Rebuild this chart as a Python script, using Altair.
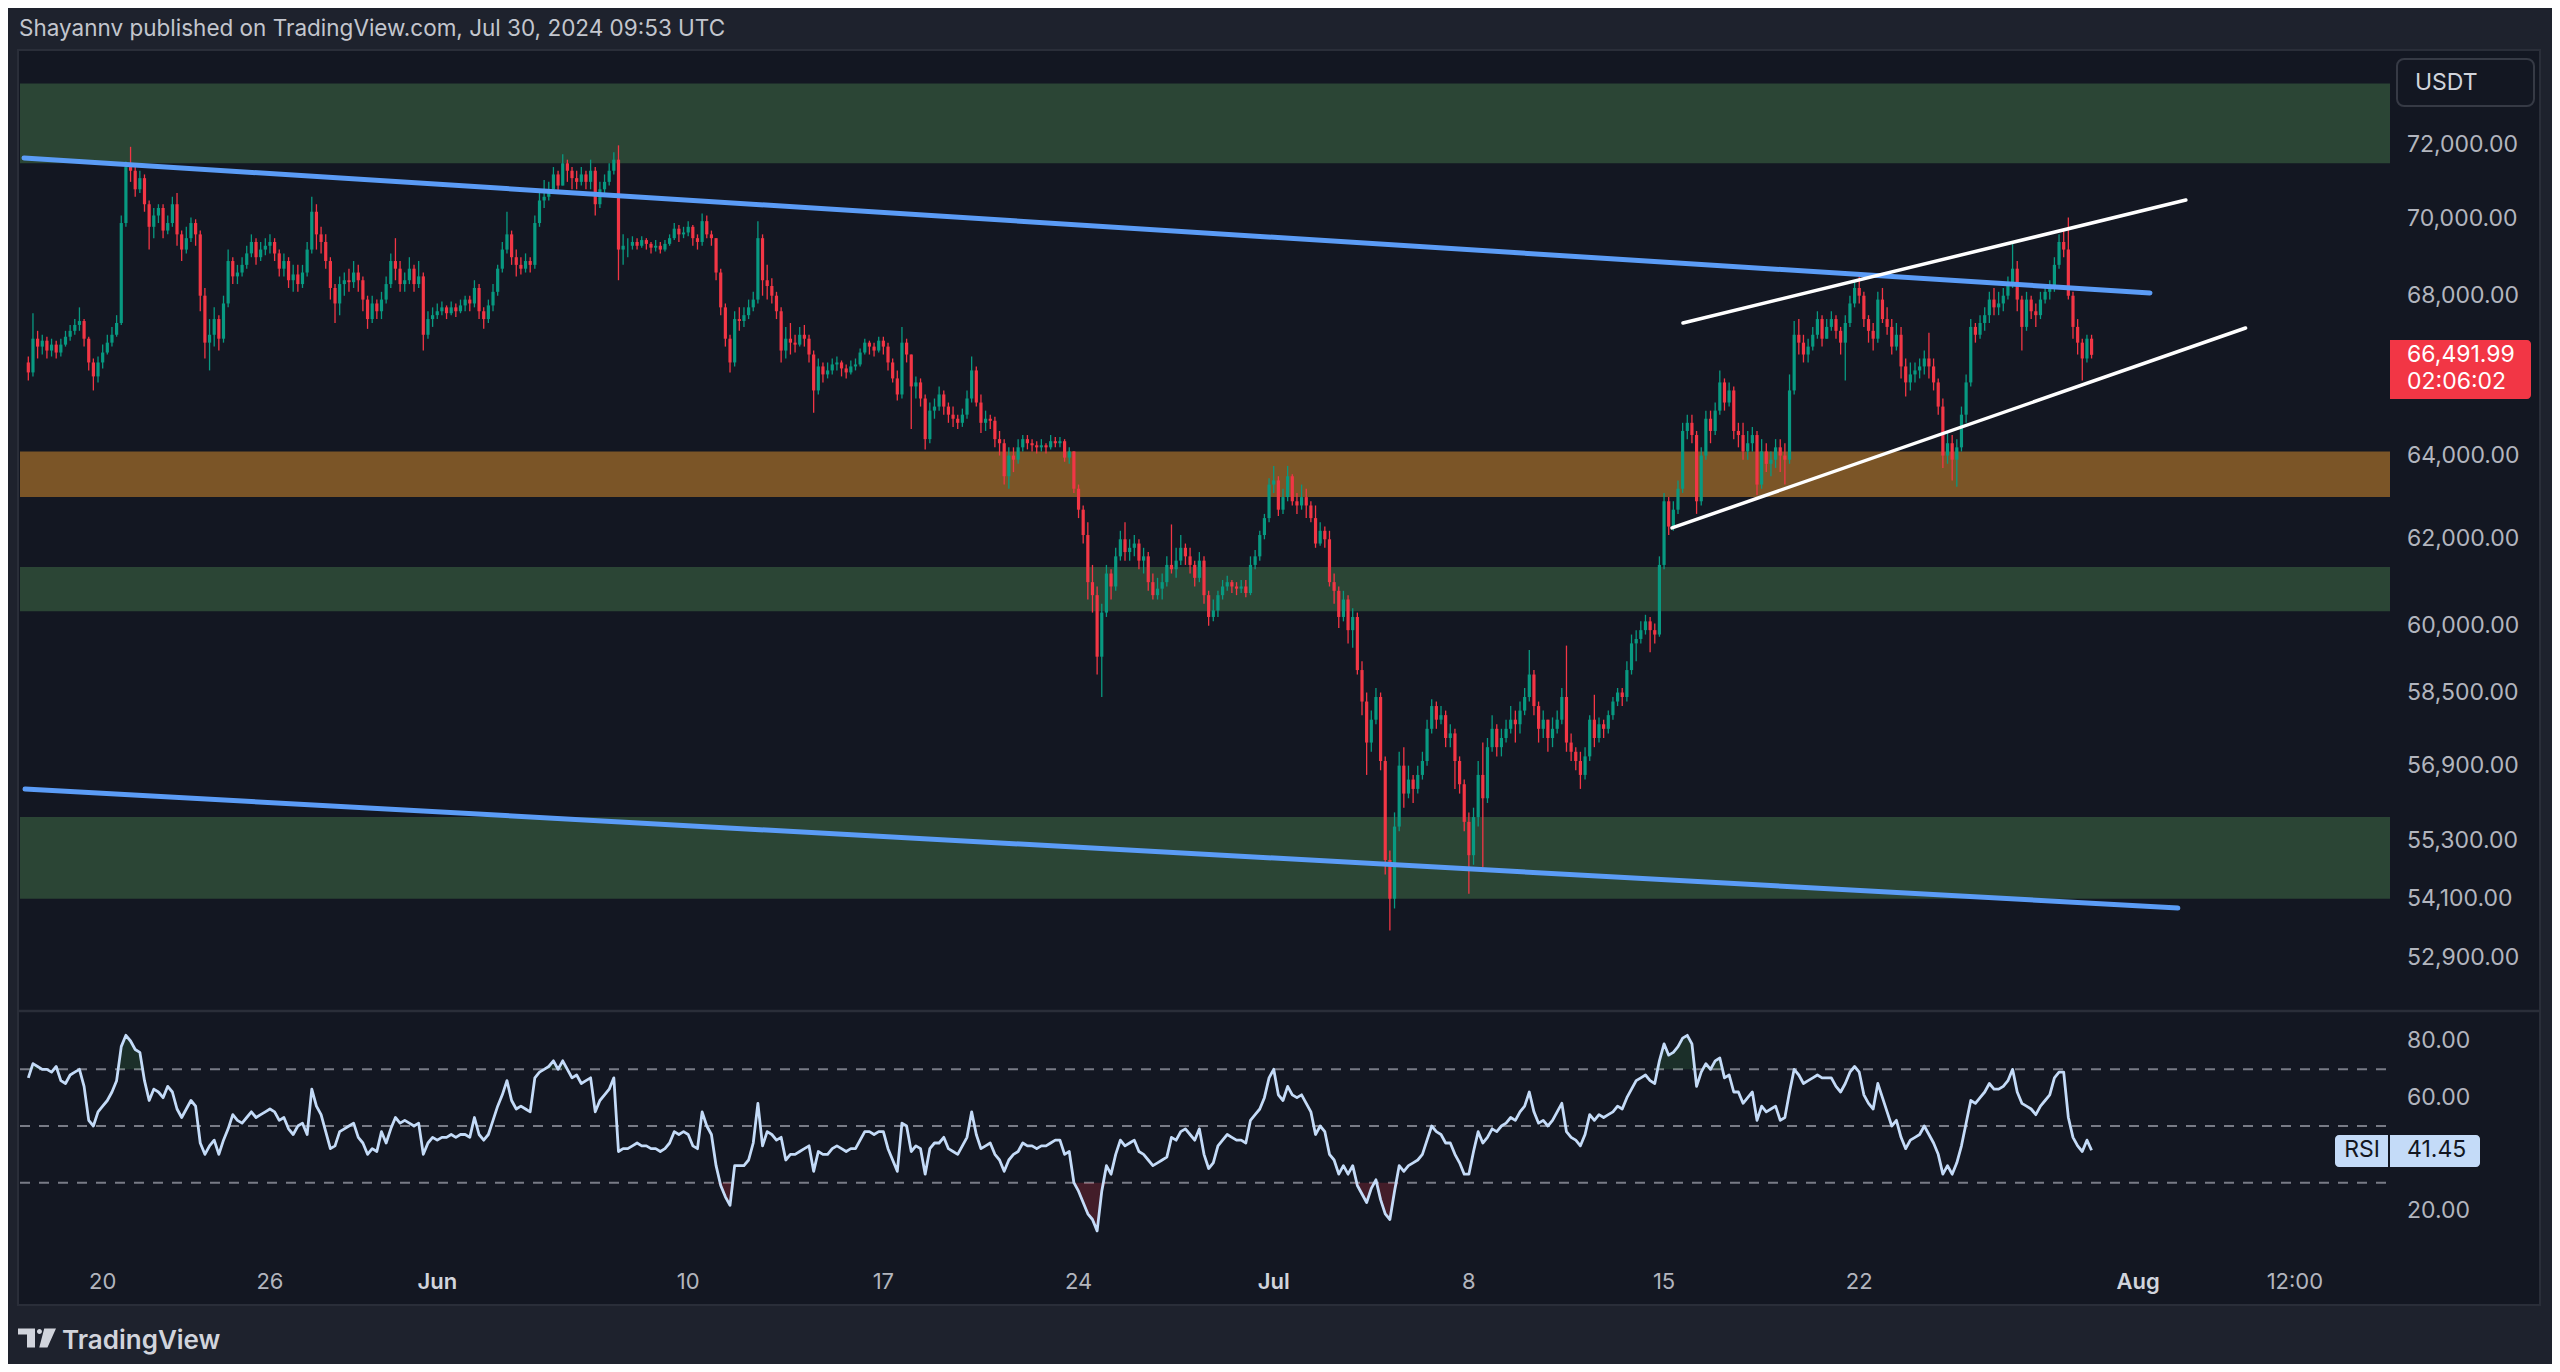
import altair as alt
import pandas as pd

# ---------------- data (prices in thousands of USDT, 4h bars) ----------------
FIRST_BAR = "2024-05-17T08:00:00Z"
BAR_HOURS = 4
OPEN0 = 66.30

CLOSE = [
    66.05, 66.90, 66.70, 66.85,                      # May 17
    66.60, 66.75, 66.55, 66.75, 66.95, 67.10,        # May 18
    67.25, 67.35, 66.90, 66.30, 65.95, 66.30,        # May 19
    66.55, 66.80, 67.00, 67.30, 69.90, 71.40,        # May 20
    71.30, 70.80, 71.10, 70.40, 69.80, 70.10,        # May 21
    70.30, 69.70, 69.90, 70.40, 69.60, 69.20,        # May 22
    69.50, 69.90, 69.60, 68.00, 66.80, 67.00,        # May 23
    67.40, 66.90, 67.80, 68.90, 68.50, 68.60,        # May 24
    68.80, 69.10, 69.40, 69.00, 69.20, 69.30,        # May 25
    69.40, 69.10, 68.70, 68.90, 68.40, 68.55,        # May 26
    68.30, 68.60, 69.20, 70.20, 69.60, 69.40,        # May 27
    68.90, 68.20, 67.80, 68.30, 68.40, 68.35,        # May 28
    68.60, 68.40, 67.90, 67.40, 67.80, 67.60,        # May 29
    67.90, 68.30, 68.90, 68.70, 68.30, 68.40,        # May 30
    68.70, 68.30, 68.50, 67.00, 67.40, 67.50,        # May 31
    67.60, 67.70, 67.55, 67.70, 67.60, 67.75,        # Jun 1
    67.90, 67.80, 68.20, 67.60, 67.40, 67.75,        # Jun 2
    68.10, 68.70, 69.20, 69.60, 69.00, 68.80,        # Jun 3
    68.70, 68.90, 68.80, 69.90, 70.50, 70.60,        # Jun 4
    70.80, 71.20, 70.90, 71.50, 71.30, 71.10,        # Jun 5
    71.00, 71.20, 71.00, 71.30, 70.40, 70.80,        # Jun 6
    71.00, 71.30, 71.60, 69.20, 69.30, 69.30,        # Jun 7
    69.40, 69.30, 69.45, 69.35, 69.25, 69.30,        # Jun 8
    69.20, 69.35, 69.50, 69.75, 69.60, 69.65,        # Jun 9
    69.80, 69.50, 69.40, 69.95, 69.60, 69.50,        # Jun 10
    68.60, 67.70, 66.90, 66.30, 67.40, 67.35,        # Jun 11
    67.50, 67.70, 67.90, 69.50, 68.40, 68.25,        # Jun 12
    68.00, 67.60, 66.60, 66.90, 66.80, 66.75,        # Jun 13
    67.00, 66.90, 66.50, 65.60, 66.20, 66.00,        # Jun 14
    66.10, 66.25, 66.30, 66.15, 66.05, 66.20,        # Jun 15
    66.25, 66.55, 66.80, 66.70, 66.60, 66.85,        # Jun 16
    66.70, 66.30, 65.90, 65.50, 66.80, 66.50,        # Jun 17
    65.70, 65.80, 65.40, 64.40, 65.10, 65.20,        # Jun 18
    65.50, 65.20, 65.00, 64.90, 64.80, 65.00,        # Jun 19
    65.40, 66.10, 65.30, 64.80, 64.90, 64.85,        # Jun 20
    64.40, 64.30, 63.50, 64.00, 63.90, 64.20,        # Jun 21
    64.40, 64.30, 64.25, 64.20, 64.25, 64.20,        # Jun 22
    64.35, 64.30, 64.35, 63.95, 64.10, 63.20,        # Jun 23
    62.70, 62.10, 61.00, 60.70, 59.30, 60.30,        # Jun 24
    61.20, 60.90, 61.60, 62.00, 61.70, 61.80,        # Jun 25
    61.90, 61.50, 61.60, 61.00, 60.70, 60.85,        # Jun 26
    61.00, 61.40, 61.30, 61.50, 61.80, 61.60,        # Jun 27
    61.40, 61.10, 61.50, 60.70, 60.20, 60.35,        # Jun 28
    60.70, 60.90, 61.00, 60.90, 60.85, 60.90,        # Jun 29
    60.75, 61.40, 61.60, 62.10, 62.50, 63.30,        # Jun 30
    63.40, 62.70, 63.00, 63.50, 62.90, 62.80,        # Jul 1
    63.00, 62.80, 62.50, 61.90, 62.20, 62.00,        # Jul 2
    61.00, 60.80, 60.20, 60.60, 59.90, 60.20,        # Jul 3
    59.00, 58.30, 57.40, 57.90, 58.40, 57.00,        # Jul 4
    54.90, 54.10, 55.60, 56.90, 56.30, 56.60,        # Jul 5
    56.40, 56.70, 57.00, 57.70, 58.20, 57.90,        # Jul 6
    58.00, 57.50, 57.60, 57.00, 56.50, 55.70,        # Jul 7
    55.00, 55.80, 56.70, 56.20, 57.30, 57.70,        # Jul 8
    57.30, 57.50, 57.70, 57.90, 57.80, 58.10,        # Jul 9
    58.40, 58.90, 58.20, 57.70, 57.90, 57.50,        # Jul 10
    57.70, 57.90, 58.40, 57.40, 57.20, 57.00,        # Jul 11
    56.70, 57.10, 57.90, 57.50, 57.80, 57.70,        # Jul 12
    58.00, 58.30, 58.50, 58.40, 59.00, 59.60,        # Jul 13
    59.70, 59.90, 60.10, 59.90, 59.80, 61.40,        # Jul 14
    62.90, 62.30, 62.70, 63.20, 64.60, 64.80,        # Jul 15
    64.50, 62.90, 64.00, 64.90, 64.60, 65.10,        # Jul 16
    65.80, 65.30, 65.60, 64.60, 64.50, 64.10,        # Jul 17
    64.30, 64.50, 63.30, 64.10, 63.80, 63.90,        # Jul 18
    64.20, 64.00, 63.90, 65.60, 67.00, 66.80,        # Jul 19
    66.50, 66.70, 67.00, 67.40, 66.90, 67.20,        # Jul 20
    67.40, 67.10, 66.80, 67.30, 67.80, 68.20,        # Jul 21
    68.00, 67.40, 67.10, 66.90, 67.90, 67.40,        # Jul 22
    67.20, 66.70, 67.00, 66.20, 65.80, 66.00,        # Jul 23
    66.10, 66.20, 66.40, 66.20, 65.80, 65.20,        # Jul 24
    64.00, 64.30, 63.90, 64.20, 65.00, 65.80,        # Jul 25
    67.20, 67.00, 67.30, 67.50, 67.90, 67.70,        # Jul 26
    67.80, 68.00, 68.30, 68.70, 67.90, 67.20,        # Jul 27
    67.90, 67.60, 67.50, 67.90, 68.10, 68.20,        # Jul 28
    68.80, 69.40, 69.20, 68.00, 67.20, 66.80,        # Jul 29
    66.40, 66.90, 66.49199,                          # Jul 30
]

HIGH = [
    66.45, 67.55, 67.10, 67.00,
    66.95, 66.90, 66.85, 66.90, 67.10, 67.25,
    67.40, 67.70, 67.40, 66.95, 66.40, 66.45,
    66.75, 67.00, 67.20, 67.50, 70.10, 71.55,
    71.95, 71.40, 71.30, 71.20, 70.50, 70.30,
    70.40, 70.40, 70.10, 70.60, 70.70, 69.70,
    69.80, 70.05, 70.00, 69.70, 68.20, 67.40,
    67.70, 67.50, 68.00, 69.20, 69.00, 68.80,
    69.00, 69.30, 69.60, 69.50, 69.40, 69.50,
    69.60, 69.50, 69.20, 69.10, 69.00, 68.80,
    68.80, 68.80, 69.40, 70.60, 70.40, 69.80,
    69.60, 69.00, 68.30, 68.50, 68.60, 68.70,
    68.90, 68.80, 68.50, 68.00, 68.00, 67.90,
    68.10, 68.50, 69.10, 69.50, 68.90, 68.60,
    69.00, 68.80, 68.90, 68.60, 67.60, 67.70,
    67.80, 67.85, 67.75, 67.85, 67.80, 67.90,
    68.00, 68.00, 68.40, 68.30, 67.70, 67.90,
    68.30, 68.80, 69.40, 70.20, 69.70, 69.20,
    69.00, 69.10, 69.00, 70.10, 70.70, 71.05,
    71.00, 71.40, 71.30, 71.75, 71.60, 71.40,
    71.30, 71.40, 71.30, 71.60, 71.40, 71.00,
    71.20, 71.50, 71.80, 71.99, 69.60, 69.50,
    69.55, 69.50, 69.55, 69.50, 69.40, 69.45,
    69.40, 69.45, 69.60, 69.90, 69.85, 69.80,
    69.95, 69.85, 69.60, 70.15, 70.10, 69.70,
    69.50, 68.70, 67.80, 67.00, 67.60, 67.70,
    67.70, 67.90, 68.10, 69.95, 69.60, 68.80,
    68.45, 68.10, 67.70, 67.20, 67.30, 67.00,
    67.20, 67.25, 67.00, 66.60, 66.40, 66.30,
    66.30, 66.40, 66.45, 66.35, 66.25, 66.35,
    66.40, 66.65, 66.90, 66.85, 66.80, 66.95,
    66.95, 66.80, 66.40, 66.10, 67.20, 66.90,
    66.50, 65.95, 65.90, 65.50, 65.30, 65.40,
    65.70, 65.60, 65.30, 65.20, 65.00, 65.15,
    65.60, 66.45, 66.20, 65.50, 65.10, 65.00,
    64.95, 64.60, 64.40, 64.20, 64.20, 64.40,
    64.50, 64.50, 64.40, 64.35, 64.40, 64.30,
    64.50, 64.45, 64.45, 64.40, 64.20, 64.10,
    63.30, 62.80, 62.40, 61.40, 60.90, 60.50,
    61.40, 61.30, 61.80, 62.20, 62.40, 62.00,
    62.10, 62.00, 61.80, 61.70, 61.20, 61.10,
    61.20, 61.60, 62.35, 61.80, 62.10, 61.90,
    61.80, 61.50, 61.70, 61.60, 60.80, 60.60,
    60.80, 61.05, 61.15, 61.05, 61.00, 61.05,
    61.05, 61.60, 61.75, 62.20, 62.60, 63.45,
    63.75, 63.50, 63.20, 63.75, 63.55, 63.10,
    63.30, 63.20, 62.90, 62.80, 62.40, 62.30,
    62.20, 61.20, 60.90, 60.80, 60.70, 60.40,
    60.30, 59.20, 58.50, 58.10, 58.60, 58.50,
    57.10, 55.10, 55.90, 57.20, 57.30, 56.90,
    56.70, 56.90, 57.20, 57.90, 58.35, 58.30,
    58.20, 58.10, 57.80, 57.70, 57.10, 56.60,
    55.90, 56.00, 57.00, 57.40, 57.50, 58.00,
    57.80, 57.70, 57.90, 58.20, 58.10, 58.30,
    58.60, 59.45, 59.00, 58.30, 58.10, 57.90,
    57.95, 58.10, 58.60, 59.55, 57.60, 57.30,
    57.20, 57.30, 58.00, 58.45, 57.95, 57.90,
    58.10, 58.40, 58.60, 58.60, 59.20, 59.80,
    59.90, 60.10, 60.25, 60.20, 60.05, 61.60,
    63.10, 63.00, 62.90, 63.40, 64.80, 65.00,
    65.00, 64.60, 64.20, 65.10, 65.10, 65.30,
    66.10, 65.90, 65.80, 65.70, 64.80, 64.80,
    64.60, 64.70, 64.60, 64.40, 64.30, 64.10,
    64.40, 64.40, 64.30, 66.00, 67.35, 67.40,
    67.00, 66.90, 67.20, 67.60, 67.50, 67.40,
    67.60, 67.50, 67.20, 67.50, 68.00, 68.40,
    68.50, 68.10, 67.50, 67.30, 68.10, 68.20,
    67.70, 67.40, 67.30, 67.20, 66.40, 66.30,
    66.30, 66.40, 66.60, 67.05, 66.40, 65.90,
    65.40, 64.60, 64.50, 64.40, 65.20, 66.00,
    67.40, 67.30, 67.50, 67.70, 68.10, 68.20,
    68.10, 68.20, 68.50, 69.40, 68.90, 68.00,
    68.10, 68.00, 67.80, 68.10, 68.30, 68.40,
    69.00, 69.60, 69.70, 70.05, 68.10, 67.40,
    66.90, 67.00, 67.00,
]

LOW = [
    65.85, 65.95, 66.40, 66.50,
    66.40, 66.45, 66.40, 66.45, 66.70, 66.85,
    67.00, 67.10, 66.70, 66.10, 65.60, 65.80,
    66.15, 66.50, 66.70, 66.95, 67.25, 69.80,
    71.00, 70.60, 70.70, 70.20, 69.20, 69.50,
    69.90, 69.50, 69.60, 69.80, 69.30, 68.90,
    69.10, 69.40, 69.30, 67.60, 66.40, 66.10,
    66.70, 66.60, 66.80, 67.70, 68.30, 68.30,
    68.50, 68.70, 69.00, 68.80, 68.90, 69.05,
    69.10, 68.90, 68.50, 68.50, 68.20, 68.10,
    68.10, 68.20, 68.50, 69.10, 69.20, 69.10,
    68.70, 67.90, 67.30, 67.50, 68.00, 68.10,
    68.20, 68.10, 67.60, 67.15, 67.30, 67.40,
    67.40, 67.80, 68.20, 68.40, 68.10, 68.10,
    68.30, 68.10, 68.20, 66.60, 66.90, 67.20,
    67.40, 67.50, 67.40, 67.50, 67.45, 67.55,
    67.60, 67.60, 67.70, 67.40, 67.15, 67.30,
    67.60, 68.00, 68.60, 69.10, 68.80, 68.50,
    68.55, 68.60, 68.60, 68.70, 69.80, 70.30,
    70.50, 70.70, 70.70, 70.90, 71.00, 70.80,
    70.80, 70.90, 70.80, 70.80, 70.10, 70.30,
    70.60, 70.90, 71.20, 68.40, 68.80, 69.00,
    69.20, 69.20, 69.25, 69.20, 69.10, 69.15,
    69.10, 69.15, 69.30, 69.45, 69.40, 69.50,
    69.55, 69.30, 69.20, 69.30, 69.50, 69.30,
    68.40, 67.50, 66.70, 66.05, 66.20, 67.10,
    67.20, 67.40, 67.60, 67.80, 68.00, 67.90,
    67.80, 67.40, 66.30, 66.40, 66.50, 66.55,
    66.70, 66.70, 66.30, 65.05, 65.50, 65.80,
    65.90, 66.00, 66.10, 65.95, 65.90, 66.00,
    66.10, 66.20, 66.50, 66.50, 66.45, 66.55,
    66.50, 66.10, 65.80, 65.35, 65.40, 66.30,
    64.65, 65.40, 65.20, 64.15, 64.30, 64.90,
    65.10, 65.00, 64.80, 64.70, 64.65, 64.70,
    64.90, 65.30, 65.20, 64.55, 64.60, 64.65,
    64.20, 64.00, 63.30, 63.20, 63.60, 63.80,
    64.10, 64.15, 64.10, 64.05, 64.10, 64.05,
    64.15, 64.20, 64.20, 63.85, 63.80, 63.10,
    62.50, 61.90, 60.60, 60.30, 58.90, 58.40,
    60.20, 60.60, 60.80, 61.50, 61.50, 61.50,
    61.60, 61.30, 61.20, 60.80, 60.60, 60.60,
    60.60, 60.90, 61.20, 61.10, 61.40, 61.40,
    61.20, 60.90, 61.00, 60.50, 60.00, 60.10,
    60.20, 60.60, 60.80, 60.75, 60.70, 60.75,
    60.65, 60.70, 61.30, 61.50, 62.00, 62.40,
    63.10, 62.55, 62.60, 62.90, 62.80, 62.60,
    62.70, 62.50, 62.40, 61.80, 61.85, 61.80,
    60.90, 60.50, 59.95, 60.10, 59.60, 59.50,
    58.90, 58.00, 56.70, 57.20, 57.80, 56.80,
    54.60, 53.45, 53.90, 55.50, 56.00, 56.20,
    56.10, 56.30, 56.60, 56.90, 57.60, 57.70,
    57.80, 57.30, 57.30, 56.40, 56.30, 55.50,
    54.20, 54.80, 55.60, 54.75, 56.10, 57.20,
    57.10, 57.10, 57.40, 57.60, 57.40, 57.60,
    58.00, 58.30, 58.00, 57.40, 57.50, 57.20,
    57.30, 57.60, 57.80, 57.20, 57.00, 56.80,
    56.40, 56.60, 57.00, 57.30, 57.40, 57.50,
    57.60, 57.90, 58.20, 58.20, 58.30, 58.90,
    59.20, 59.60, 59.80, 59.40, 59.60, 59.75,
    61.30, 62.10, 62.20, 62.60, 63.10, 64.40,
    64.30, 62.60, 62.80, 63.90, 64.30, 64.50,
    65.00, 65.10, 65.20, 64.40, 64.20, 63.90,
    63.90, 64.10, 63.05, 63.20, 63.60, 63.50,
    63.70, 63.60, 63.30, 63.80, 65.50, 66.50,
    66.30, 66.30, 66.60, 66.90, 66.70, 66.90,
    67.10, 66.90, 66.50, 65.85, 67.20, 67.70,
    67.80, 67.20, 66.80, 66.60, 66.80, 67.30,
    67.00, 66.50, 66.60, 65.90, 65.45, 65.60,
    65.80, 65.90, 66.00, 65.90, 65.60, 65.00,
    63.70, 63.80, 63.40, 63.25, 64.10, 64.80,
    65.70, 66.80, 66.90, 67.10, 67.30, 67.50,
    67.50, 67.60, 67.90, 68.20, 67.60, 66.60,
    67.10, 67.40, 67.20, 67.40, 67.80, 67.90,
    68.10, 68.70, 69.00, 67.90, 66.90, 66.50,
    65.85, 66.30, 66.40,
]

RSI = [
    67, 72, 71, 70,
    70, 69, 71, 66, 65, 68,
    69, 70, 64, 52, 50, 55,
    57, 59, 62, 66, 78, 82,
    80, 77, 76, 66, 59, 63,
    62, 60, 64, 62, 56, 53,
    56, 59, 57, 44, 40, 43,
    45, 40, 45, 49, 54, 52,
    51, 53, 55, 53, 54, 55,
    56, 55, 52, 53, 49, 47,
    50, 51, 47, 63, 57, 54,
    48, 42, 43, 48, 49, 50,
    51, 46, 44, 40, 42, 41,
    48, 44, 49, 53, 51, 52,
    51, 50, 51, 40, 44, 46,
    45, 46, 46, 47, 46, 47,
    47, 46, 53, 47, 45, 47,
    52, 57, 61, 66, 59, 56,
    57, 56, 55, 67, 69, 70,
    71, 73, 70, 73, 70, 67,
    68, 65, 66, 67, 55, 59,
    61, 63, 67, 41, 42, 42,
    43, 44, 43, 43, 42, 42,
    41, 42, 44, 48, 47, 48,
    47, 43, 42, 55, 50, 47,
    36, 29, 25, 22, 36, 36,
    36, 38, 44, 58, 43, 48,
    47, 45, 46, 38, 40, 40,
    41, 42, 43, 34, 41, 40,
    40, 42, 43, 42, 41, 42,
    42, 45, 48, 48, 47, 48,
    48, 42, 38, 34, 51, 50,
    41, 43, 42, 33, 42, 44,
    44, 46, 42, 41, 40, 43,
    46, 55, 47, 42, 43, 44,
    40, 38, 34, 38, 40, 41,
    44, 43, 43, 42, 43, 43,
    44, 45, 45, 40, 41, 30,
    27, 23, 19, 17, 13, 27,
    36, 33, 40, 45, 43, 44,
    45, 41, 40, 38, 36, 37,
    38, 39, 46, 45, 48, 49,
    47, 45, 49, 40, 35, 37,
    43, 45, 47, 46, 45, 45,
    44, 52, 54, 56, 60, 67,
    70, 61, 59, 64, 61, 60,
    61, 58, 55, 47, 50, 48,
    40, 38, 33, 36, 33, 36,
    29, 26, 23, 28, 31, 24,
    19, 17, 27, 36, 34, 36,
    37, 38, 40, 45, 50, 48,
    47, 44, 44, 40, 37, 33,
    33, 41, 48, 44, 46, 49,
    48, 50, 51, 53, 52, 55,
    57, 62, 55, 51, 52, 50,
    52, 55, 58, 48, 46, 45,
    43, 47, 54, 52, 54, 53,
    54, 55, 57, 56, 60, 63,
    66, 67, 68, 66, 65, 73,
    79, 75, 76, 78, 81, 82,
    79, 64, 69, 72, 70, 73,
    74, 67, 68, 62, 62, 58,
    60, 62, 52, 57, 55, 56,
    57, 52, 53, 62, 70, 68,
    65, 66, 67, 68, 67, 67,
    67, 64, 62, 65, 69, 71,
    69, 61, 58, 56, 65, 60,
    55, 50, 52, 46, 42, 45,
    46, 47, 50, 47, 44, 40,
    33, 36, 33, 37, 43, 51,
    59, 58, 60, 62, 65, 63,
    63, 64, 66, 70, 62, 58,
    57, 56, 54, 57, 59, 61,
    67, 69, 69, 53, 46, 43,
    41, 45, 41.45,
]

# support / resistance zones (USDT)
ZONE_LO = [71500, 63000, 60330, 54100]
ZONE_HI = [73700, 64100, 61350, 55800]
ZONE_KIND = ["green", "orange", "green", "green"]

# trend lines (start / end time and price)
LINE_T1 = ["2024-05-17T04:18:00Z", "2024-05-17T05:09:00Z", "2024-07-15T16:17:00Z", "2024-07-15T06:51:00Z"]
LINE_T2 = ["2024-08-01T10:17:00Z", "2024-08-02T10:17:00Z", "2024-08-02T17:09:00Z", "2024-08-04T20:34:00Z"]
LINE_P1 = [71646, 56397, 67300, 62267]
LINE_P2 = [68071, 53909, 70514, 67172]
LINE_KIND = ["blue", "blue", "white", "white"]

PRICE_TICKS = [52900, 54100, 55300, 56900, 58500, 60000, 62000, 64000, 68000, 70000, 72000]
RSI_TICKS = [20, 60, 80]
RSI_LEVELS = [30, 50, 70]
TIME_TICKS = ["2024-05-20", "2024-05-26", "2024-06-01", "2024-06-10", "2024-06-17", "2024-06-24",
              "2024-07-01", "2024-07-08", "2024-07-15", "2024-07-22", "2024-08-01", "2024-08-06T15:00"]
TIME_LABELS = ["20", "26", "Jun", "10", "17", "24", "Jul", "8", "15", "22", "Aug", "12:00"]
TIME_IS_MONTH = [False, False, True, False, False, False, True, False, False, False, True, False]
X_DOMAIN = ["2024-05-17T05:08:34Z", "2024-08-09T20:34:17Z"]
PRICE_DOMAIN = [51864, 74584]
RSI_DOMAIN = [6.24, 90.23]
LAST_PRICE = 66491.99
LAST_RSI = 41.45
COUNTDOWN = "02:06:02"
HEADER = "Shayannv published on TradingView.com, Jul 30, 2024 09:53 UTC"

# ---------------- styling ----------------
FONT = "Inter"
OUTER = "#1e222d"
PANEL = "#131722"
BORDER = "#2a2e39"
TXT = "#b2b5be"
UP = "#089981"
DOWN = "#f23645"
ZONE_COL = {"green": "#2b4535", "orange": "#7b5527"}
LINE_COL = {"blue": "#5b9cf6", "white": "#ffffff"}
LINE_W = {"blue": 5, "white": 3.5}
RSI_COL = "#c4dbf8"

W = 2370
H = 1198
PRICE_H = 958


def ms(s):
    t = pd.Timestamp(s)
    if t.tzinfo is None:
        t = t.tz_localize("UTC")
    return int(t.value // 10**6)


n = min(len(CLOSE), len(HIGH), len(LOW), len(RSI))
t0 = ms(FIRST_BAR)
opens = [OPEN0] + CLOSE[:n - 1]
bars = pd.DataFrame({
    "t": [t0 + i * BAR_HOURS * 3600 * 1000 for i in range(n)],
    "o": [v * 1000 for v in opens[:n]],
    "c": [v * 1000 for v in CLOSE[:n]],
    "h": [v * 1000 for v in HIGH[:n]],
    "l": [v * 1000 for v in LOW[:n]],
    "rsi": RSI[:n],
})
bars["col"] = [UP if c >= o else DOWN for o, c in zip(bars["o"], bars["c"])]

zones = pd.DataFrame({"lo": ZONE_LO, "hi": ZONE_HI,
                      "col": [ZONE_COL[k] for k in ZONE_KIND]})
lines = pd.DataFrame({"t1": [ms(s) for s in LINE_T1], "t2": [ms(s) for s in LINE_T2],
                      "p1": LINE_P1, "p2": LINE_P2,
                      "col": [LINE_COL[k] for k in LINE_KIND],
                      "w": [LINE_W[k] for k in LINE_KIND]})
levels = pd.DataFrame({"v": RSI_LEVELS})
rsi_ticks = pd.DataFrame({"v": RSI_TICKS, "lab": [f"{v:.2f}" for v in RSI_TICKS]})
price_ticks = pd.DataFrame({"v": PRICE_TICKS, "lab": [f"{v:,.2f}" for v in PRICE_TICKS]})
time_ticks = pd.DataFrame({"t": [ms(s) for s in TIME_TICKS], "lab": TIME_LABELS, "month": TIME_IS_MONTH})
one = pd.DataFrame({"a": [0]})

xs = alt.Scale(type="utc", domain=[ms(s) for s in X_DOMAIN], nice=False)
ps = alt.Scale(type="log", domain=PRICE_DOMAIN, range=[PRICE_H, 0], nice=False, zero=False)
rs = alt.Scale(domain=RSI_DOMAIN, range=[H, PRICE_H + 2], nice=False, zero=False)


def X(field):
    return alt.X(field, type="temporal", scale=xs, axis=None, title=None)


def PY(field):
    return alt.Y(field, type="quantitative", scale=ps, axis=None, title=None)


def RY(field):
    return alt.Y(field, type="quantitative", scale=rs, axis=None, title=None)


# ---------------- price pane ----------------
panel_bg = alt.Chart(one).mark_rect(fill=PANEL, stroke=BORDER, strokeWidth=2).encode(
    x=alt.value(-2), x2=alt.value(2520), y=alt.value(-2), y2=alt.value(1253))

zone_layer = alt.Chart(zones).mark_rect().encode(
    x=alt.value(0), x2=alt.value(W), y=PY("lo:Q"), y2="hi:Q",
    color=alt.Color("col:N", scale=None, legend=None))

wicks = alt.Chart(bars).mark_rule(strokeWidth=1.3).encode(
    x=X("t"), y=PY("l"), y2="h",
    color=alt.Color("col:N", scale=None, legend=None))

bodies = alt.Chart(bars).mark_bar(size=3.2).encode(
    x=X("t"), y=PY("o"), y2="c",
    color=alt.Color("col:N", scale=None, legend=None))

trend = alt.Chart(lines).mark_rule(strokeCap="round").encode(
    x=X("t1"), x2="t2", y=PY("p1"), y2="p2",
    color=alt.Color("col:N", scale=None, legend=None),
    strokeWidth=alt.StrokeWidth("w:Q", scale=None, legend=None))

price_labels = alt.Chart(price_ticks).mark_text(align="left", baseline="middle", font=FONT,
                                                fontSize=23, color=TXT).encode(
    x=alt.value(W + 17), y=PY("v:Q"), text="lab:N")

price_box = alt.Chart(one).mark_rect(color=DOWN, cornerRadiusTopRight=4, cornerRadiusBottomRight=4).encode(
    x=alt.value(W), x2=alt.value(W + 141),
    y=alt.Y(datum=66868, type="quantitative", scale=ps, axis=None),
    y2=alt.Y2(datum=65388))
price_txt = alt.Chart(one).mark_text(text=f"{LAST_PRICE:,.2f}", align="left", baseline="middle",
                                     font=FONT, fontSize=23, color="#ffffff").encode(
    x=alt.value(W + 17), y=alt.Y(datum=LAST_PRICE, type="quantitative", scale=ps, axis=None))
count_txt = alt.Chart(one).mark_text(text=COUNTDOWN, align="left", baseline="middle", dy=27,
                                     font=FONT, fontSize=23, color="#ffffff").encode(
    x=alt.value(W + 17), y=alt.Y(datum=LAST_PRICE, type="quantitative", scale=ps, axis=None))

usdt_box = alt.Chart(one).mark_rect(fillOpacity=0, stroke="#363a45", strokeWidth=2, cornerRadius=7).encode(
    x=alt.value(2377), x2=alt.value(2514), y=alt.value(7), y2=alt.value(54))
usdt_txt = alt.Chart(one).mark_text(text="USDT", align="left", baseline="middle", font=FONT,
                                    fontSize=23, color="#d1d4dc").encode(
    x=alt.value(2395), y=alt.value(31))

header = alt.Chart(one).mark_text(text=HEADER, align="left", baseline="middle", font=FONT,
                                  fontSize=22.5, color="#c3c6ce").encode(
    x=alt.value(-1), y=alt.value(-23))

footer = alt.Chart(one).mark_text(text="TradingView", align="left", baseline="middle", font=FONT,
                                  fontSize=26, fontWeight=600, color="#d1d4dc").encode(
    x=alt.value(42), y=alt.value(1289))
LOGO = ("M-1,-0.5 L-0.105,-0.5 L-0.105,0.5 L-0.526,0.5 L-0.526,-0.184 L-1,-0.184 Z "
        "M0.26,-0.34 A0.13,0.13 0 1,1 0.0,-0.34 A0.13,0.13 0 1,1 0.26,-0.34 Z "
        "M0.38,-0.5 L1,-0.5 L0.55,0.5 L0.12,0.5 Z")
logo = alt.Chart(one).mark_point(shape=LOGO, filled=True, size=1444, color="#d1d4dc",
                                 opacity=1, strokeWidth=0).encode(
    x=alt.value(17), y=alt.value(1286))

price_layer = alt.layer(panel_bg, zone_layer, wicks, bodies, trend, price_labels, price_box,
                        price_txt, count_txt, usdt_box, usdt_txt, header, footer, logo)

# ---------------- RSI pane ----------------
separator = alt.Chart(one).mark_rule(color=BORDER, strokeWidth=2.5).encode(
    x=alt.value(-2), x2=alt.value(2520), y=alt.value(PRICE_H + 1))

level_rules = alt.Chart(levels).mark_rule(color="#787b86", strokeWidth=2, strokeDash=[10, 9]).encode(
    y=RY("v:Q"), x=alt.value(0), x2=alt.value(W))

ob_fill = alt.Chart(bars).transform_calculate(top="max(datum.rsi, 70)").mark_area(
    color="#4caf50", opacity=0.16).encode(x=X("t"), y=RY("top:Q"), y2=alt.Y2(datum=70))
os_fill = alt.Chart(bars).transform_calculate(bot="min(datum.rsi, 30)").mark_area(
    color="#f23645", opacity=0.22).encode(x=X("t"), y=RY("bot:Q"), y2=alt.Y2(datum=30))

rsi_line = alt.Chart(bars).mark_line(color=RSI_COL, strokeWidth=2.8, strokeJoin="round").encode(
    x=X("t"), y=RY("rsi:Q"))

rsi_lab = alt.Chart(rsi_ticks).mark_text(align="left", baseline="middle", font=FONT, fontSize=23,
                                         color=TXT).encode(
    x=alt.value(W + 17), y=RY("v:Q"), text="lab:N")

badge = alt.Chart(one).mark_rect(color=RSI_COL, cornerRadius=4).encode(
    x=alt.value(2315), x2=alt.value(2460),
    y=alt.Y(datum=46.8, type="quantitative", scale=rs, axis=None), y2=alt.Y2(datum=35.5))
badge_div = alt.Chart(one).mark_rule(color=PANEL, strokeWidth=2).encode(
    x=alt.value(2369),
    y=alt.Y(datum=46.8, type="quantitative", scale=rs, axis=None), y2=alt.Y2(datum=35.5))
badge_name = alt.Chart(one).mark_text(text="RSI", align="center", baseline="middle", font=FONT,
                                      fontSize=23, color=PANEL).encode(
    x=alt.value(2342), y=alt.Y(datum=LAST_RSI, type="quantitative", scale=rs, axis=None))
badge_val = alt.Chart(one).mark_text(text=f"{LAST_RSI:.2f}", align="left", baseline="middle",
                                     font=FONT, fontSize=23, color=PANEL).encode(
    x=alt.value(W + 17), y=alt.Y(datum=LAST_RSI, type="quantitative", scale=rs, axis=None))

day_labels = alt.Chart(time_ticks).transform_filter("!datum.month").mark_text(
    align="center", baseline="middle", font=FONT, fontSize=22, color=TXT).encode(
    x=X("t"), y=alt.value(H + 32), text="lab:N")
month_labels = alt.Chart(time_ticks).transform_filter("datum.month").mark_text(
    align="center", baseline="middle", font=FONT, fontSize=22, fontWeight=600,
    color="#d1d4dc").encode(
    x=X("t"), y=alt.value(H + 32), text="lab:N")

rsi_layer = alt.layer(separator, level_rules, ob_fill, os_fill, rsi_line, rsi_lab,
                      badge, badge_div, badge_name, badge_val, day_labels, month_labels)

chart = alt.layer(price_layer, rsi_layer).resolve_scale(y="independent").properties(
    width=W, height=H,
    padding={"left": 12, "top": 44, "right": 162, "bottom": 114},
    autosize=alt.AutoSizeParams(type="none"),
    background=OUTER,
).configure_view(fill=PANEL, stroke=None).configure(font=FONT)

chart.save("out.html", embed_options={"renderer": "svg", "actions": False})
